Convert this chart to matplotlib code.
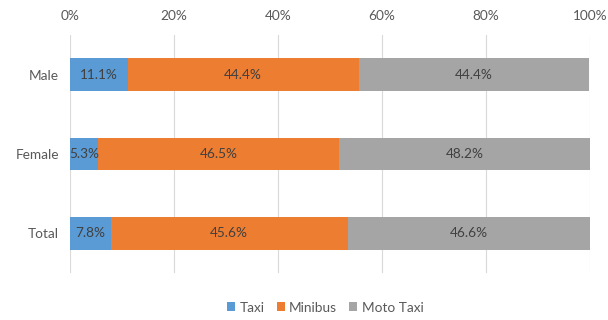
import matplotlib
matplotlib.use("Agg")
import matplotlib.pyplot as plt
import numpy as np

groups = ["Male", "Female", "Total"]
modes = ["Taxi", "Minibus", "Moto Taxi"]
taxi = [11.1, 5.3, 7.8]
minibus = [44.4, 46.5, 45.6]
moto_taxi = [44.4, 48.2, 46.6]
xticks = [0, 20, 40, 60, 80, 100]

COLORS = ["#5B9BD5", "#ED7D31", "#A5A5A5"]
TEXT = "#595959"
FS = 9.8
plt.rcParams.update({"font.family": ["Lato", "DejaVu Sans"], "font.size": FS})

fig = plt.figure(figsize=(6.08, 3.2), dpi=100)
ax = fig.add_axes([0.1151, 0.147, 0.8553, 0.744])

y = np.arange(len(groups))
left = np.zeros(len(groups))
for name, vals, col in zip(modes, [taxi, minibus, moto_taxi], COLORS):
    vals = np.array(vals)
    bars = ax.barh(y, vals, left=left, height=0.41, color=col, label=name, zorder=2)
    for b, v in zip(bars, vals):
        ax.text(b.get_x() + b.get_width() / 2, b.get_y() + b.get_height() / 2,
                f"{v:.1f}%", ha="center", va="center", color="#404040",
                fontsize=FS, zorder=3)
    left += vals

ax.set_xlim(0, 100)
ax.set_ylim(len(groups) - 0.5, -0.5)
ax.set_xticks(xticks)
ax.set_xticklabels([f"{t}%" for t in xticks])
ax.xaxis.tick_top()
ax.set_yticks(y)
ax.set_yticklabels(groups)
ax.tick_params(length=0, colors=TEXT, labelsize=FS)
ax.tick_params(axis="x", pad=9)
ax.tick_params(axis="y", pad=8)
ax.grid(axis="x", color="#D9D9D9", linewidth=0.8, zorder=0)
for s in ax.spines.values():
    s.set_visible(False)

leg = fig.legend(loc="lower center", bbox_to_anchor=(0.535, -0.018), ncol=3,
                 frameon=False, handlelength=0.6, handleheight=0.6,
                 handletextpad=0.3, columnspacing=0.9, fontsize=FS)
for t in leg.get_texts():
    t.set_color(TEXT)

fig.savefig("out.png", dpi=100)
